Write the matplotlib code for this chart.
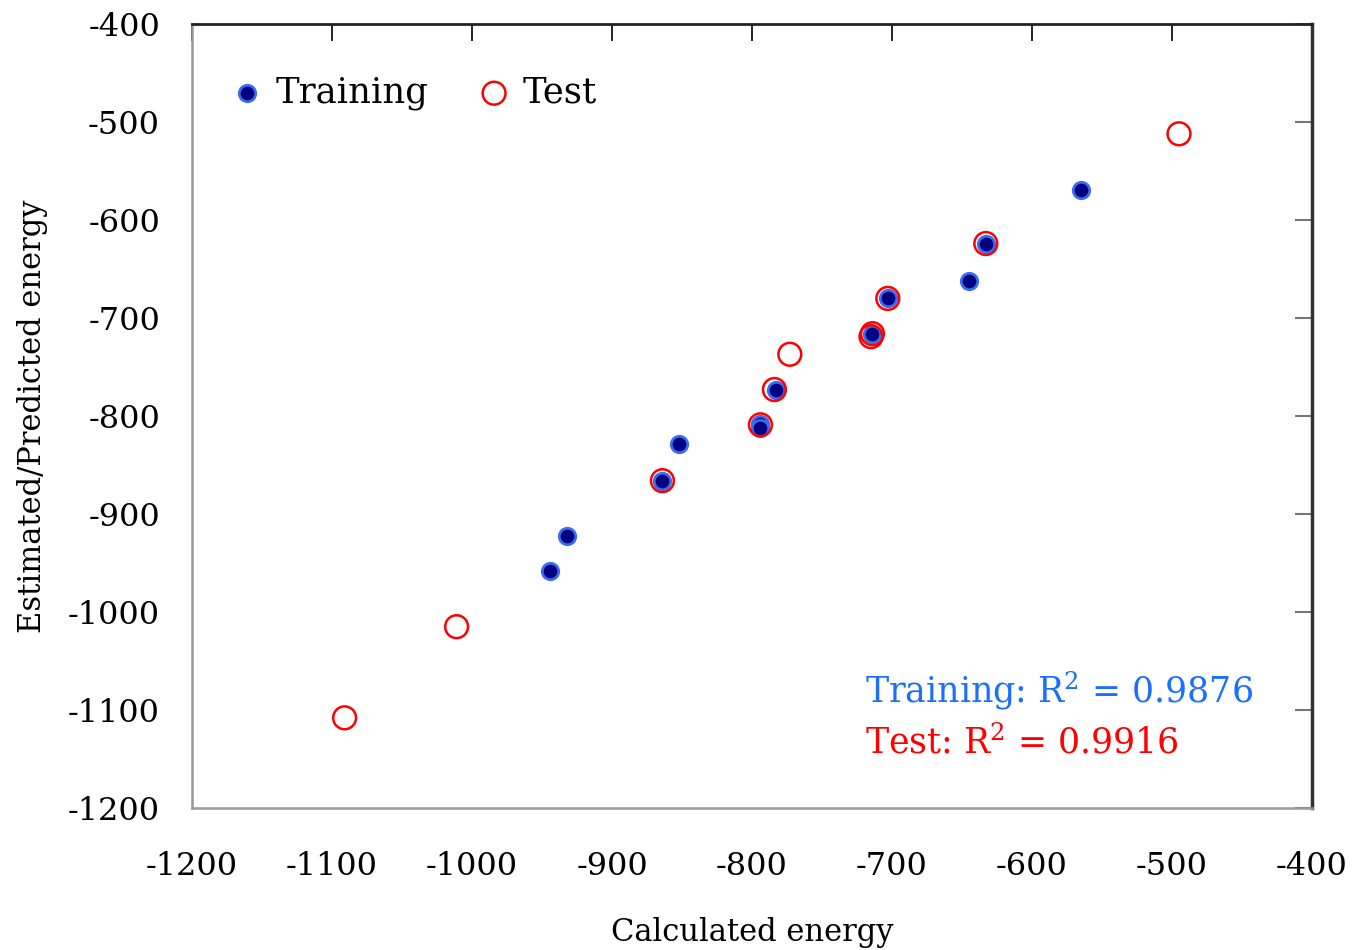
import matplotlib
matplotlib.use("Agg")
import matplotlib.pyplot as plt

plt.rcParams['font.family'] = ['DejaVu Serif']
plt.rcParams['mathtext.fontset'] = 'dejavuserif'
plt.rcParams['axes.unicode_minus'] = False

# values
train_x = [-565, -645, -633, -703, -714, -783, -794, -794, -852, -864, -932, -944]
train_y = [-569, -662, -624, -680, -716, -773, -808, -812, -829, -866, -922, -958]

test_x = [-495, -633, -703, -714, -715, -773, -784, -794, -864, -1011, -1091]
test_y = [-512, -624, -680, -716, -719, -737, -773, -809, -866, -1015, -1108]

ticks = [-1200, -1100, -1000, -900, -800, -700, -600, -500, -400]

fig = plt.figure(figsize=(13.54, 9.5), dpi=100)
ax = fig.add_axes([0.1418, 0.1495, 0.8272, 0.8252])

ax.scatter(train_x, train_y, s=140, c='#000080', edgecolors='#3a6cf0',
           linewidths=2.0, zorder=3, label='Training')
ax.scatter(test_x, test_y, s=270, facecolors='none', edgecolors='#ff0000',
           linewidths=1.8, zorder=4, label='Test')

ax.set_xlim(-1200, -400)
ax.set_ylim(-1200, -400)
ax.set_xticks(ticks)
ax.set_yticks(ticks)
ax.tick_params(axis='both', labelsize=23)
ax.tick_params(axis='x', pad=31, top=True, bottom=False, direction='in',
               length=12, width=1.2, color='black')
ax.tick_params(axis='y', pad=23, right=True, left=False, direction='in',
               length=12, width=1.5, color='#777777')

ax.spines['top'].set_color('#222222')
ax.spines['right'].set_color('#333333')
ax.spines['top'].set_linewidth(2)
ax.spines['right'].set_linewidth(2.5)
ax.spines['left'].set_color('#999999')
ax.spines['bottom'].set_color('#999999')
ax.spines['left'].set_linewidth(1.8)
ax.spines['bottom'].set_linewidth(1.8)

ax.set_xlabel('Calculated energy', fontsize=22, labelpad=25)
ax.set_ylabel('Estimated/Predicted energy', fontsize=22, labelpad=14)

ax.legend(loc='upper left', ncol=2, frameon=False, fontsize=25.5,
          handletextpad=0.2, columnspacing=1.25, bbox_to_anchor=(0.002, 0.975),
          scatterpoints=1, handlelength=1.2)

ax.text(865, 950 - 703, r'Training: R$^2$ = 0.9876', transform=None,
        color='#1a6fff', fontsize=25, ha='left', va='baseline')
ax.text(865, 950 - 753, r'Test: R$^2$ = 0.9916', transform=None,
        color='#ff0000', fontsize=25, ha='left', va='baseline')

fig.savefig('out.png', dpi=100)
